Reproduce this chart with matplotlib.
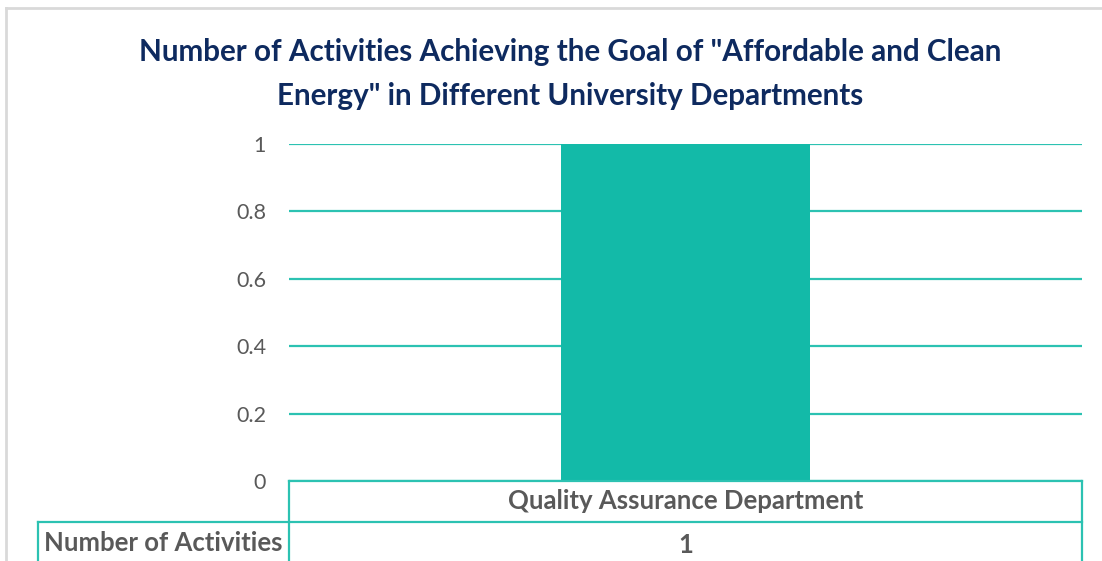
import matplotlib
matplotlib.use("Agg")
import matplotlib.pyplot as plt
from matplotlib.lines import Line2D

plt.rcParams["font.family"] = ["Lato", "DejaVu Sans"]

departments = ["Quality Assurance Department"]
activities = [1]
series_name = "Number of Activities"
yticks = [0, 0.2, 0.4, 0.6, 0.8, 1]
title = 'Number of Activities Achieving the Goal of "Affordable and Clean\nEnergy" in Different University Departments'

teal = "#13BAA8"
grid_teal = "#2CC2B2"
navy = "#0E2A5F"
gray = "#595959"

W, H = 1102, 561
fig = plt.figure(figsize=(W / 100, H / 100), dpi=100)

def fx(px):
    return px / W

def fy(py):
    return 1 - py / H

# plot area in pixels
left, right, top, bottom = 289, 1082, 144, 481
ax = fig.add_axes([fx(left), fy(bottom), fx(right - left), (bottom - top) / H])
x = range(len(departments))
ax.bar(x, activities, width=0.313, color=teal, zorder=3)
ax.set_xlim(-0.5, len(departments) - 0.5)
ax.set_ylim(0, 1)
ax.set_yticks(yticks)
ax.set_yticklabels([f"{t:g}" for t in yticks], color=gray, fontsize=15.5)
ax.tick_params(axis="y", length=0, pad=16.5)
ax.set_xticks([])
ax.yaxis.grid(True, color=grid_teal, linewidth=1.6, zorder=0)
for s in ax.spines.values():
    s.set_visible(False)

fig.text(fx(570), fy(74), title, ha="center", va="center", fontsize=21.3,
         fontweight="bold", color=navy, linespacing=1.68)

# data table below the plot
def line(x0, y0, x1, y1):
    fig.add_artist(Line2D([fx(x0), fx(x1)], [fy(y0), fy(y1)], color=grid_teal,
                          linewidth=1.6))

row1, row2, row3 = 481, 522, 565
lab_left = 38
line(left, row1, right, row1)
line(lab_left, row2, right, row2)
line(left, row1, left, row3)
line(right, row1, right, row3)
line(lab_left, row2, lab_left, row3)
ncol = len(departments)
cw = (right - left) / ncol
for i, (d, v) in enumerate(zip(departments, activities)):
    cx = left + cw * (i + 0.5)
    if i > 0:
        line(left + cw * i, row1, left + cw * i, row3)
    fig.text(fx(cx), fy(501), d, ha="center", va="center",
             fontsize=18.5, fontweight="bold", color=gray)
    fig.text(fx(cx), fy(545), str(v), ha="center", va="center",
             fontsize=18.5, fontweight="bold", color=gray)
fig.text(fx(44), fy(543), series_name, ha="left", va="center",
         fontsize=18.5, fontweight="bold", color=gray)

# outer chart border (light gray)
fig.add_artist(Line2D([fx(6), fx(6)], [fy(8), 0], color="#D9D9D9", linewidth=2))
fig.add_artist(Line2D([fx(6), 1], [fy(8), fy(8)], color="#D9D9D9", linewidth=2))

fig.savefig("out.png", dpi=100)
